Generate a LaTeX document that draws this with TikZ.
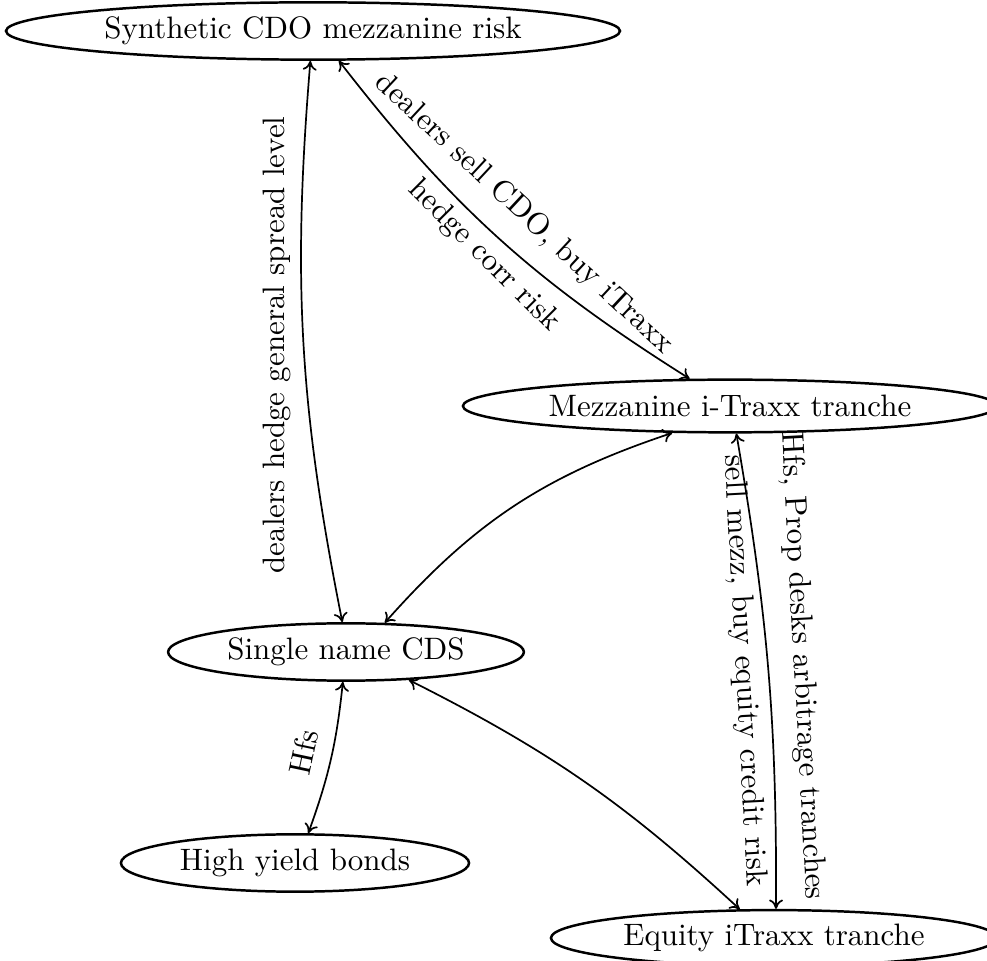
\documentclass[tikz,border=0pt]{standalone}
\usetikzlibrary{shapes.geometric,arrows.meta}
\begin{document}
\begin{tikzpicture}[x=0.3226pt,y=-0.3226pt,
  ell/.style={draw,ellipse,line width=0.8pt,inner sep=0pt,minimum height=18.5pt},
  conn/.style={line width=0.55pt,{To[length=3pt,width=4.5pt]}-{To[length=3pt,width=4.5pt]}},
  lbl/.style={inner sep=0pt}]
\useasboundingbox (0,0) rectangle (987,961);
% nodes
\node[ell,minimum width=198.1pt] (syn) at (313,31) {Synthetic CDO mezzanine risk};
\node[ell,minimum width=172.3pt,minimum height=17pt] (mez) at (730,406) {Mezzanine i-Traxx tranche};
\node[ell,minimum width=114.8pt] (sin) at (346,652) {Single name CDS};
\node[ell,minimum width=112.3pt] (hig) at (295,863) {High yield bonds};
\node[ell,minimum width=143.9pt,minimum height=18pt] (equ) at (774,938) {Equity iTraxx tranche};
% connectors
\draw[conn] (syn.-95) to[bend right=8] (sin.97);
\draw[conn] (syn.-49) to[bend right=10] (mez.146);
\draw[conn] (sin.37) to[bend left=15] (mez.205);
\draw[conn] (mez.-77) to[bend left=5] (equ.86);
\draw[conn] (sin.-96) to[bend left=7] (hig.66);
\draw[conn] (sin.-24) to[bend left=8] (equ.140);
% labels
\node[lbl,rotate=90] (l1) at (277,345) {dealers hedge general spread level};
\node[lbl,rotate=-43] (l2) at (524,214) {dealers sell CDO, buy iTraxx};
\node[lbl,rotate=-45] (l3) at (484,256) {hedge corr risk};
\node[lbl,rotate=-87] (l4) at (744,671) {sell mezz, buy equity credit risk};
\node[lbl,rotate=-87] (l5) at (802,666) {Hfs, Prop desks arbitrage tranches};
\node[lbl,rotate=78] (l6) at (304,752) {Hfs};
\end{tikzpicture}
\end{document}
